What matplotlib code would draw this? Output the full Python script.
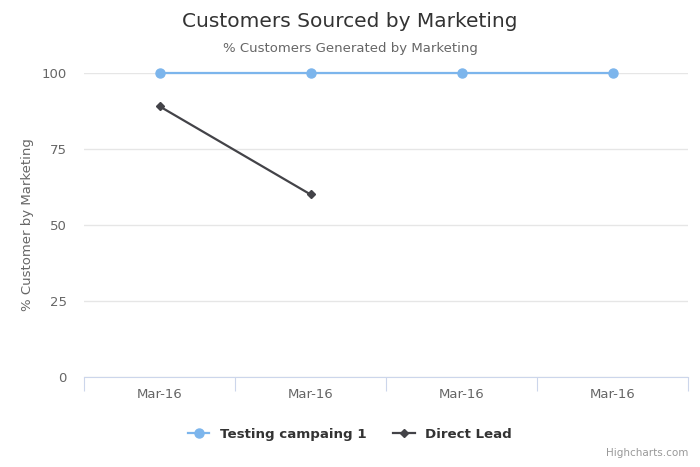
import matplotlib.pyplot as plt

# chart data
categories = ["Mar-16", "Mar-16", "Mar-16", "Mar-16"]
testing_campaign = [100, 100, 100, 100]
direct_lead = [89, 60]
y_ticks = [0, 25, 50, 75, 100]

fig = plt.figure(figsize=(7, 4.67), dpi=100)
ax = fig.add_axes([0.12, 0.193, 0.863, 0.651])

x1 = list(range(len(testing_campaign)))
x2 = list(range(len(direct_lead)))
ax.plot(x1, testing_campaign, color="#7cb5ec", lw=1.6, marker="o", ms=6.5,
        label="Testing campaing 1", zorder=3, clip_on=False)
ax.plot(x2, direct_lead, color="#434348", lw=1.6, marker="D", ms=4.5,
        label="Direct Lead", zorder=3, clip_on=False)

ax.set_xlim(-0.5, len(categories) - 0.5)
ax.set_ylim(0, 100)
ax.set_yticks(y_ticks)
ax.tick_params(axis="y", length=0, pad=12.5, labelsize=9.5, labelcolor="#666666")
ax.yaxis.grid(True, color="#e6e6e6", lw=1)
ax.set_axisbelow(True)

# tick marks on category boundaries, labels at centres
ax.set_xticks([i - 0.5 for i in range(len(categories) + 1)])
ax.set_xticklabels([""] * (len(categories) + 1))
ax.tick_params(axis="x", which="major", length=10, color="#ccd6eb")
ax.set_xticks(x1, minor=True)
ax.set_xticklabels(categories, minor=True)
ax.tick_params(axis="x", which="minor", length=0, pad=8, labelsize=9.5,
               labelcolor="#666666")

for s in ["top", "right", "left"]:
    ax.spines[s].set_visible(False)
ax.spines["bottom"].set_color("#ccd6eb")

ax.set_ylabel("% Customer by Marketing", fontsize=9.5, color="#666666", labelpad=5)

fig.text(0.5, 0.955, "Customers Sourced by Marketing", ha="center", va="center",
         fontsize=14.5, color="#333333")
fig.text(0.5, 0.897, "% Customers Generated by Marketing", ha="center", va="center",
         fontsize=9.5, color="#666666")

leg = fig.legend(loc="center", bbox_to_anchor=(0.5, 0.07), ncol=2, frameon=False,
                 prop={"weight": "bold", "size": 9.6}, handlelength=1.6,
                 columnspacing=2)
for t in leg.get_texts():
    t.set_color("#333333")

fig.text(0.983, 0.02, "Highcharts.com", ha="right", va="bottom", fontsize=7.5,
         color="#999999")

fig.savefig("out.png", dpi=100)
